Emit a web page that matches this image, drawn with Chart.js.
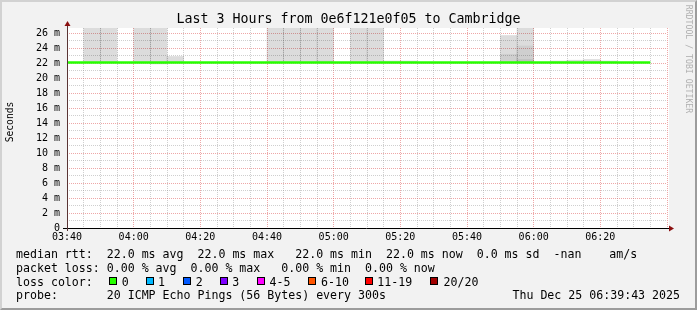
<!DOCTYPE html>
<html>
<head>
<meta charset="utf-8">
<script src="https://cdn.jsdelivr.net/npm/chart.js@4.4.1/dist/chart.umd.min.js"></script>
<style>
html, body { margin: 0; padding: 0; }
body { width: 697px; height: 310px; overflow: hidden; position: relative; background: #f2f2f2;
       font-family: "DejaVu Sans Mono", monospace; color: #000; }
#frame { position: absolute; left: 0; top: 0; width: 697px; height: 310px; box-sizing: border-box;
         border-top: 2px solid #d2d2d2; border-left: 2px solid #d2d2d2;
         border-right: 2px solid #9c9c9c; border-bottom: 2px solid #9c9c9c; }
#smokeChart { position: absolute; left: 0; top: 0; }
.t { position: absolute; white-space: pre; }
.leg { font-size: 11.6px; line-height: 14px; }
.box { position: absolute; width: 6px; height: 6px; border: 1px solid #000; top: 276.5px; }
</style>
</head>
<body>
<div id="frame"></div>
<canvas id="smokeChart" width="697" height="310"></canvas>

<div class="t" style="left:0;width:697px;text-align:center;top:11px;font-size:13.3px;line-height:16px;">Last 3 Hours from 0e6f121e0f05 to Cambridge</div>
<div class="t" style="left:-40px;top:114px;width:100px;text-align:center;font-size:9.6px;line-height:16px;transform:rotate(-90deg);">Seconds</div>
<div class="t" style="left:618.5px;top:54px;width:140px;text-align:center;font-size:8.2px;line-height:10px;color:#b0b0b0;transform:rotate(90deg);">RRDTOOL / TOBI OETIKER</div>

<div class="t leg" style="left:16px;top:247.3px;">median rtt:  22.0 ms avg  22.0 ms max   22.0 ms min  22.0 ms now  0.0 ms sd  -nan    am/s</div>
<div class="t leg" style="left:16px;top:261px;">packet loss: 0.00 % avg  0.00 % max   0.00 % min  0.00 % now</div>
<div class="t leg" style="left:16px;top:274.7px;">loss color:</div>
<div id="lossColors"></div>
<div class="t leg" style="left:16px;top:288.3px;">probe:       20 ICMP Echo Pings (56 Bytes) every 300s</div>
<div class="t leg" style="right:17px;top:288.3px;">Thu Dec 25 06:39:43 2025</div>

<script>
// time axis: minutes since 03:40, 5 minute steps
const startMinute = 220;
const slotMinutes = 5;

// median rtt per 5 min slot (ms), 03:40 .. 06:35
const median = [22.1, 22.1, 22.1, 22.1, 22.1, 22.1, 22.1, 22.1, 22.1, 22.1, 22.1, 22.1,
                22.1, 22.1, 22.1, 22.1, 22.1, 22.1, 22.1, 22.1, 22.1, 22.1, 22.1, 22.1,
                22.1, 22.1, 22.1, 22.1, 22.1, 22.1, 22.1, 22.1, 22.1, 22.1, 22.1, 22.1];

// smoke: outer band (min..max ping) per slot index
const lightSlots = [1, 2, 4, 5, 6, 12, 13, 14, 15, 17, 18, 19, 20, 26, 27, 29, 30, 31, 32];
const lightLow   = [22.1, 22.1, 22.1, 21.9, 22.1, 22.1, 22.1, 22.1, 22.1, 22.1, 22.1, 22.1, 22.1, 22.1, 22.1, 22.1, 22.1, 22.1, 22.1];
const lightHigh  = [27, 27, 27, 27, 22.9, 27, 27, 27, 27, 27, 27, 22.3, 22.3, 25.7, 27, 22.3, 22.4, 22.5, 22.3];
// denser smoke bands
const midSlots = [15, 26, 27];
const midLow   = [22.1, 22.1, 22.1];
const midHigh  = [22.3, 23.2, 24.3];
const darkSlots = [27];
const darkLow   = [22.1];
const darkHigh  = [22.5];

// loss color legend
const lossLabels = ["0", "1", "2", "3", "4-5", "6-10", "11-19", "20/20"];
const lossColors = ["#26ff00", "#00b8ff", "#0059ff", "#7e00ff", "#ff00ff", "#ff5500", "#ff0000", "#a10000"];
const lossBoxX   = [109, 146, 183, 219.5, 256.5, 307.5, 365, 429.5];
const lossTextX  = [121.7, 158, 195.7, 232.3, 269.5, 321, 377.3, 443.5];

const legend = document.getElementById("lossColors");
lossLabels.forEach((lbl, i) => {
    const b = document.createElement("div");
    b.className = "box";
    b.style.left = lossBoxX[i] + "px";
    b.style.background = lossColors[i];
    legend.appendChild(b);
    const t = document.createElement("div");
    t.className = "t leg";
    t.style.left = lossTextX[i] + "px";
    t.style.top = "274.7px";
    t.textContent = lbl;
    legend.appendChild(t);
});

function band(slots, low, high) {
    return slots.map((s, i) => ({ x: s * slotMinutes + slotMinutes / 2, y: [low[i], high[i]] }));
}

function hhmm(v) {
    const m = startMinute + v;
    const h = Math.floor(m / 60), mm = m % 60;
    return String(h).padStart(2, "0") + ":" + String(mm).padStart(2, "0");
}

const gridGray = "rgba(140,140,140,0.42)";
const gridRed = "rgba(222,80,80,0.5)";
const tickFont = { family: "DejaVu Sans Mono", size: 10 };

const plotBackground = {
    id: "plotBackground",
    beforeDraw(chart) {
        const { ctx, chartArea: a } = chart;
        ctx.save();
        ctx.fillStyle = "#ffffff";
        ctx.fillRect(a.left, a.top, a.right - a.left + 2, a.bottom - a.top);
        ctx.restore();
    }
};

const rrdAxes = {
    id: "rrdAxes",
    afterDraw(chart) {
        const { ctx, chartArea: a } = chart;
        const x0 = Math.round(a.left) + 0.5, y0 = Math.round(a.bottom) + 0.5;
        ctx.save();
        ctx.lineWidth = 1;
        ctx.strokeStyle = "#000";
        ctx.beginPath(); ctx.moveTo(a.left - 4, y0); ctx.lineTo(a.right + 3, y0); ctx.stroke();
        ctx.strokeStyle = "#5a3535";
        ctx.beginPath(); ctx.moveTo(x0, a.bottom + 3); ctx.lineTo(x0, a.top - 3); ctx.stroke();
        ctx.fillStyle = "#8b1010";
        ctx.beginPath(); ctx.moveTo(a.right + 2, y0 - 3); ctx.lineTo(a.right + 7, y0); ctx.lineTo(a.right + 2, y0 + 3); ctx.fill();
        ctx.beginPath(); ctx.moveTo(x0 - 3, a.top - 2); ctx.lineTo(x0, a.top - 7); ctx.lineTo(x0 + 3, a.top - 2); ctx.fill();
        ctx.restore();
    }
};

new Chart(document.getElementById("smokeChart"), {
    type: "bar",
    data: {
        datasets: [
            {
                type: "line",
                data: median.map((v, i) => ({ x: i * slotMinutes, y: v })),
                borderColor: "#26ff00",
                borderWidth: 2.6,
                pointRadius: 0,
                tension: 0
            },
            { data: band(darkSlots, darkLow, darkHigh), backgroundColor: "rgba(0,0,0,0.073)" },
            { data: band(midSlots, midLow, midHigh), backgroundColor: "rgba(0,0,0,0.059)" },
            { data: band(lightSlots, lightLow, lightHigh), backgroundColor: "rgba(0,0,0,0.137)" }
        ]
    },
    options: {
        responsive: false,
        animation: false,
        layout: { padding: { top: 28, right: 30, left: 0, bottom: 0 } },
        plugins: { legend: { display: false }, tooltip: { enabled: false } },
        datasets: { bar: { grouped: false, barPercentage: 1, categoryPercentage: 1, borderWidth: 0 } },
        scales: {
            x: {
                type: "linear",
                min: 0,
                max: 180,
                offset: false,
                ticks: {
                    stepSize: 5,
                    autoSkip: false,
                    maxRotation: 0,
                    padding: 3,
                    color: "#000",
                    font: tickFont,
                    callback: v => (v % 20 === 0 && v < 180) ? hhmm(v) : ""
                },
                grid: {
                    offset: false,
                    drawTicks: false,
                    lineWidth: 1,
                    color: c => c.tick && c.tick.value % 20 === 0 ? gridRed : gridGray
                },
                border: { display: false, dash: [1, 1] },
                afterFit(s) { s.height = 82; }
            },
            y: {
                min: 0,
                max: 26.7,
                ticks: {
                    stepSize: 1,
                    includeBounds: false,
                    autoSkip: false,
                    padding: 7,
                    color: "#000",
                    font: tickFont,
                    callback: v => v === 0 ? "0" : (v % 2 === 0 ? v + " m" : "")
                },
                grid: {
                    drawTicks: false,
                    lineWidth: 1,
                    color: c => c.tick && c.tick.value % 2 === 0 ? gridRed : gridGray
                },
                border: { display: false, dash: [1, 1] },
                afterFit(s) { s.width = 67; }
            }
        }
    },
    plugins: [plotBackground, rrdAxes]
});
</script>
</body>
</html>
